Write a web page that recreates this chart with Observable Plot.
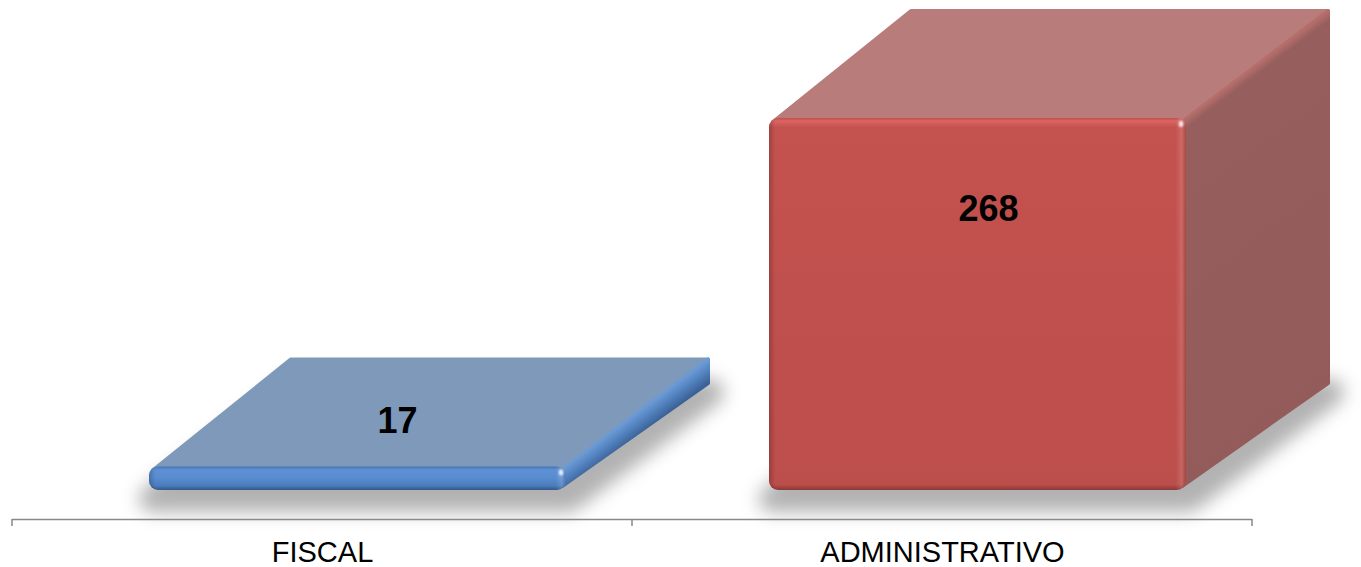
<!DOCTYPE html>
<html>
<head>
<meta charset="utf-8">
<script src="https://cdn.jsdelivr.net/npm/d3@7"></script>
<script src="https://cdn.jsdelivr.net/npm/@observablehq/plot@0.6"></script>
<style>
html,body{margin:0;padding:0;background:#fff;}
#chart svg{display:block;}
</style>
</head>
<body>
<div id="chart"></div>
<script>
// ---- data ----
const categories = ["FISCAL", "ADMINISTRATIVO"];
const values = [17, 268];
const valueLabels = ["17", "268"];

// ---- styles ----
const frontStops = [
  [[0,"#4574b2"],[0.14,"#5d90d4"],[0.5,"#598ccf"],[0.82,"#4a7cbb"],[1,"#33588a"]],
  [[0,"#c04e4b"],[0.008,"#dc6561"],[0.025,"#c4524f"],[0.5,"#c0504d"],[0.985,"#bc4e4b"],[1,"#8a3836"]]
];
const topColors = ["#7e99b9", "#b87d7a"];
const sideLight = ["#6c9ad4", "#b66e6b"];
const sideBase  = ["#5585c3", "#965f5d"];
const sideDark  = ["#3b6297", "#935c5a"];

const data = categories.map((category, i) => ({category, value: values[i], label: valueLabels[i], i}));

// layout constants (3D projection)
const depthX = 142, depthY = 107, insetL = 137, insetR = 66, axisGap = 29;

function geom(scales, d) {
  const sx = scales.x, sy = scales.y;
  let bw = typeof sx.bandwidth === "function" ? sx.bandwidth() : sx.bandwidth;
  if (bw == null) bw = (sx(categories[1]) - sx(categories[0]));
  const xs = sx(d.category);
  return {x0: xs + insetL, x1: xs + bw - insetR, yt: sy(d.value), yb: sy(0), xs, bw};
}

const len = Math.hypot(depthX, depthY);
const nx = depthY / len, ny = depthX / len;

// gradients & filters
const defsMark = (index, scales) => {
  const g = d3.create("svg:g");
  const defs = g.append("defs");
  const f = defs.append("filter").attr("id", "softShadow")
    .attr("x", "-40%").attr("y", "-60%").attr("width", "180%").attr("height", "220%");
  f.append("feGaussianBlur").attr("stdDeviation", 9);
  const f2 = defs.append("filter").attr("id", "sparkle")
    .attr("x", "-100%").attr("y", "-100%").attr("width", "300%").attr("height", "300%");
  f2.append("feGaussianBlur").attr("stdDeviation", 1.2);
  const hb = defs.append("linearGradient").attr("id", "hbevel")
    .attr("x1", 0).attr("y1", 0).attr("x2", 1).attr("y2", 0);
  [[0,"#000",0.2],[0.015,"#000",0],[0.975,"#fff",0],[0.99,"#fff",0.14],[1,"#000",0.12]]
    .forEach(([o,c,a]) => hb.append("stop").attr("offset", o).attr("stop-color", c).attr("stop-opacity", a));
  data.forEach(d => {
    const lg = defs.append("linearGradient").attr("id", `front${d.i}`)
      .attr("x1", 0).attr("y1", 0).attr("x2", 0).attr("y2", 1);
    frontStops[d.i].forEach(([o,c]) => lg.append("stop").attr("offset", o).attr("stop-color", c));
    const {x1, yt, yb} = geom(scales, d);
    const T = (yb - yt) * ny;
    const sg = defs.append("linearGradient").attr("id", `side${d.i}`)
      .attr("gradientUnits", "userSpaceOnUse")
      .attr("x1", x1).attr("y1", yt).attr("x2", x1 + nx * T).attr("y2", yt + ny * T);
    const e = Math.min(0.4, 8 / T);
    sg.append("stop").attr("offset", 0).attr("stop-color", sideLight[d.i]);
    sg.append("stop").attr("offset", e).attr("stop-color", sideBase[d.i]);
    sg.append("stop").attr("offset", 1).attr("stop-color", sideDark[d.i]);
  });
  return g.node();
};

// soft floor shadow
const shadowMark = (index, scales) => {
  const outer = d3.create("svg:g").attr("filter", "url(#softShadow)");
  const g = outer.append("g").attr("opacity", 0.3).attr("transform", "translate(3,9)");
  data.forEach(d => {
    const {x0, x1, yb} = geom(scales, d);
    g.append("path")
      .attr("d", `M${x0},${yb}L${x1},${yb}L${x1 + depthX},${yb - depthY}L${x0 + depthX},${yb - depthY}Z`)
      .attr("fill", "#000").attr("stroke", "#000").attr("stroke-width", 26).attr("stroke-linejoin", "round");
  });
  return outer.node();
};

// top and side faces (front corners tucked behind the rounded front face)
const facesMark = (index, scales) => {
  const g = d3.create("svg:g");
  const t = 4;
  data.forEach(d => {
    const {x0, x1, yt, yb} = geom(scales, d);
    g.append("path")
      .attr("d", `M${x0 + t},${yt + t}L${x1 - t},${yt + t}L${x1 + depthX},${yt - depthY}L${x0 + depthX},${yt - depthY}Z`)
      .attr("fill", topColors[d.i]).attr("stroke", topColors[d.i])
      .attr("stroke-width", 4).attr("stroke-linejoin", "round");
    g.append("path")
      .attr("d", `M${x1 - t},${yt + t}L${x1 + depthX},${yt - depthY}L${x1 + depthX},${yb - depthY}L${x1 - t},${yb - t}Z`)
      .attr("fill", `url(#side${d.i})`).attr("stroke", `url(#side${d.i})`)
      .attr("stroke-width", 4).attr("stroke-linejoin", "round");
  });
  return g.node();
};

// highlights, value labels, category boundary ticks
const decorMark = (index, scales) => {
  const g = d3.create("svg:g");
  data.forEach(d => {
    const {x0, x1, yt, yb} = geom(scales, d);
    const h = yb - yt;
    g.append("ellipse").attr("cx", x1 - 5).attr("cy", yt + 6).attr("rx", 2.2).attr("ry", 3)
      .attr("fill", "#fff").attr("opacity", 0.9).attr("filter", "url(#sparkle)");
    g.append("text")
      .attr("x", (x0 + x1) / 2 + 42 - 0.0833 * h)
      .attr("y", yt + 0.39 * h - 55)
      .attr("dy", "0.35em")
      .attr("text-anchor", "middle")
      .attr("font-size", 36).attr("font-weight", "bold").attr("fill", "#000")
      .text(d.label);
  });
  const sx = scales.x;
  const {bw, yb} = geom(scales, data[0]);
  const bounds = categories.map(c => sx(c)).concat([sx(categories[categories.length - 1]) + bw]);
  bounds.forEach(b => {
    g.append("line").attr("x1", b).attr("x2", b)
      .attr("y1", yb + axisGap).attr("y2", yb + axisGap + 7)
      .attr("stroke", "#898989").attr("stroke-width", 1.5);
  });
  return g.node();
};

const plot = Plot.plot({
  width: 1361,
  height: 567,
  marginLeft: 12,
  marginRight: 109,
  marginTop: 118,
  marginBottom: 77,
  style: {fontFamily: "'Liberation Sans', Arial, Helvetica, sans-serif", background: "#fff", overflow: "visible", color: "#000"},
  x: {type: "band", domain: categories, paddingInner: 0, paddingOuter: 0},
  y: {domain: [0, 268], axis: null},
  color: {type: "identity"},
  marks: [
    defsMark,
    shadowMark,
    facesMark,
    Plot.barY(data, {x: "category", y: "value", fill: d => `url(#front${d.i})`, insetLeft: insetL, insetRight: insetR, rx: 9}),
    Plot.barY(data, {x: "category", y: "value", fill: () => "url(#hbevel)", insetLeft: insetL, insetRight: insetR, rx: 9}),
    decorMark,
    Plot.ruleY([0], {dy: axisGap, stroke: "#898989", strokeWidth: 1.5}),
    Plot.axisX({tickSize: 0, tickPadding: 51, fontSize: 29, label: null, fill: "#000"})
  ]
});
document.getElementById("chart").appendChild(plot);
</script>
</body>
</html>
